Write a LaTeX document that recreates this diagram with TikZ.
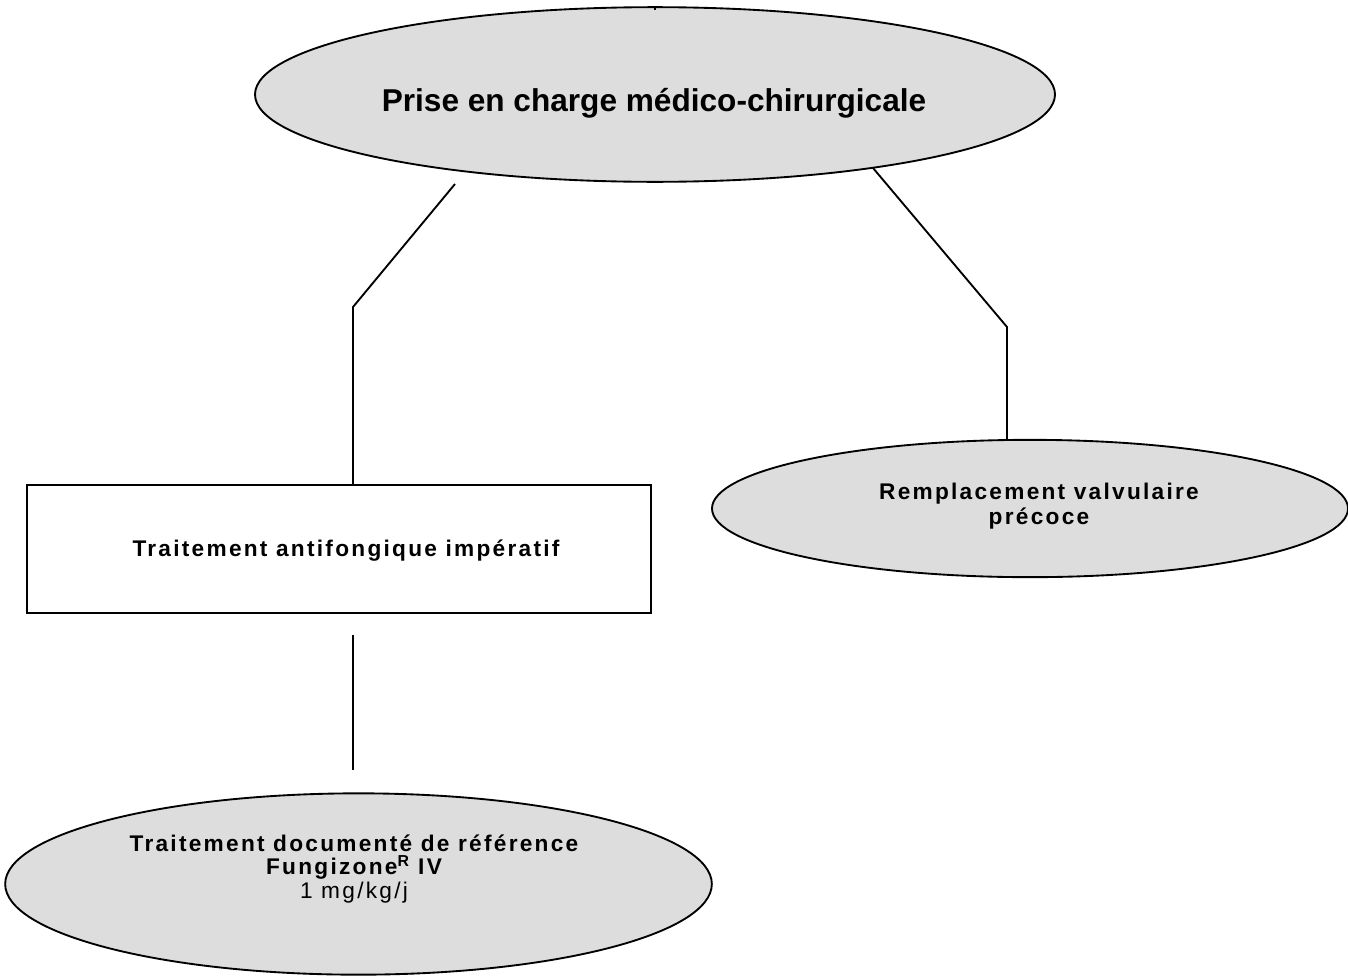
\documentclass[tikz,border=0pt]{standalone}
\usepackage{fontspec}
\setmainfont{Liberation Sans}
\newfontfamily\wide[LetterSpace=10]{Liberation Sans}
\usetikzlibrary{shapes.geometric}
\definecolor{bubble}{HTML}{DDDDDD}
\tikzset{
  px/.style={x=0.75pt,y=-0.75pt},
  link/.style={draw=black,line width=1.4pt},
  bubble/.style={ellipse,draw=black,line width=1.4pt,fill=bubble,inner sep=0pt},
  boxed/.style={rectangle,draw=black,line width=1.8pt,fill=white,inner sep=0pt},
  caption/.style={align=center,font=\wide\bfseries\fontsize{17}{19}\selectfont,inner sep=0pt},
}
\begin{document}
\begin{tikzpicture}[px]
\useasboundingbox (0,0) rectangle (1348,978);

% shapes
\node[bubble,minimum width=600pt,minimum height=131pt] (top) at (655,94.5) {};
\node[bubble,minimum width=477pt,minimum height=103pt] (valve) at (1030,508.5) {};
\node[boxed,minimum width=468pt,minimum height=96pt] (anti) at (339,549) {};
\node[bubble,minimum width=530pt,minimum height=136pt] (ref) at (358.5,884) {};

% texts
\node[font=\bfseries\fontsize{23.7}{28}\selectfont,inner sep=0pt] (topt) at (654,103) {Prise en charge médico-chirurgicale};
\node[caption] (valvet) at (1039,506) {Remplacement valvulaire\\précoce};
\node[caption] (antit) at (346,551) {Traitement antifongique impératif};
\node[caption,font=\wide\bfseries\fontsize{17}{17.4}\selectfont] (reft) at (354,869) {Traitement documenté de référence\\Fungizone\textsuperscript{R} IV\\\mdseries 1 mg/kg/j};

% connector end points
\coordinate (l0) at (455,184);
\coordinate (l1) at (353,307);
\coordinate (r0) at (873,168);
\coordinate (r1) at (1007,327);
\coordinate (d0) at (353,635);
\coordinate (d1) at (353,770);

% connectors
\draw[link] (l0) -- (l1) -- (l1 |- anti.north);
\draw[link] (r0) -- (r1) -- (r1 |- valve.north);
\draw[link] (d0) -- (d1);
\draw[line width=0.8pt] (top.north) -- ++(0,4);
\end{tikzpicture}
\end{document}
